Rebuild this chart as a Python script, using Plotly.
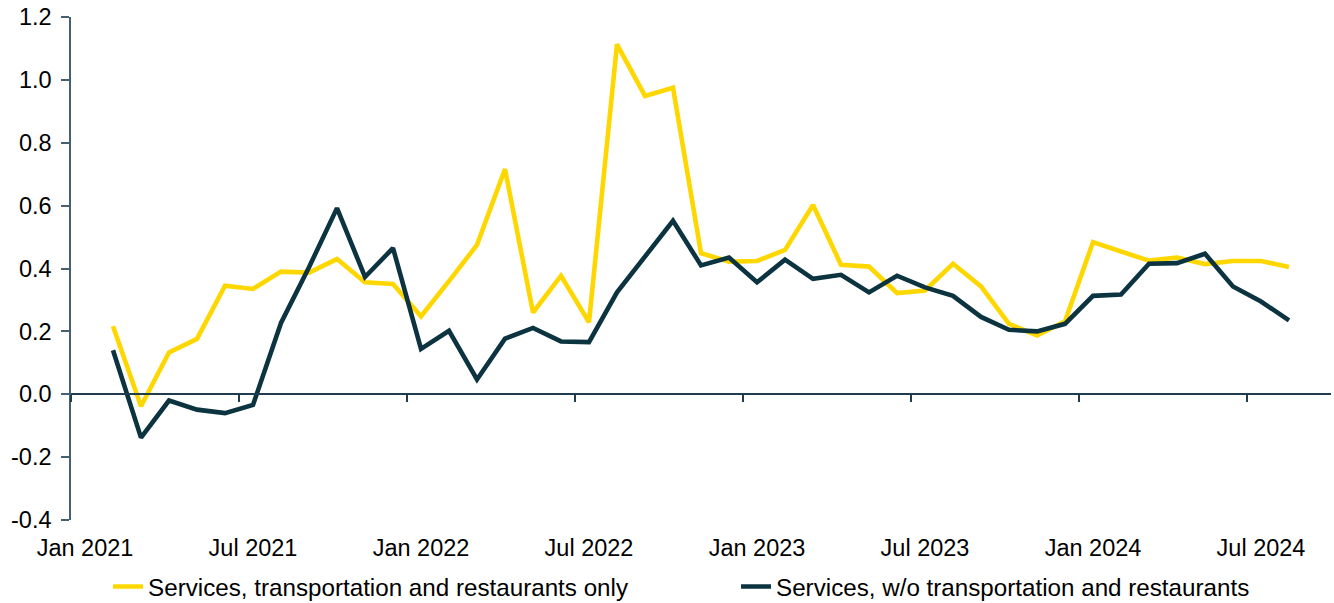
import plotly.graph_objects as go

months = [f"{m} {y}" for y in range(2021, 2025) for m in
          ["Jan", "Feb", "Mar", "Apr", "May", "Jun", "Jul", "Aug", "Sep", "Oct", "Nov", "Dec"]]
months = months[:45]  # Jan 2021 .. Sep 2024

tick_labels = ["Jan 2021", "Jul 2021", "Jan 2022", "Jul 2022",
               "Jan 2023", "Jul 2023", "Jan 2024", "Jul 2024"]

y_tick_values = [-0.4, -0.2, 0.0, 0.2, 0.4, 0.6, 0.8, 1.0, 1.2]
y_tick_text = [f"{v:.1f}" for v in y_tick_values]  # plain hyphen for negatives

# Jan 2021 .. Sep 2024 (first and last empty)
transport_restaurants = [
    None,
    0.216, -0.038, 0.133, 0.176, 0.345, 0.335, 0.390, 0.387, 0.430, 0.356, 0.351,
    0.248, 0.360, 0.475, 0.716, 0.260, 0.377, 0.229, 1.113, 0.949, 0.975, 0.449, 0.422,
    0.424, 0.459, 0.602, 0.412, 0.406, 0.322, 0.330, 0.415, 0.343, 0.224, 0.187, 0.232,
    0.484, 0.454, 0.425, 0.435, 0.414, 0.424, 0.424, 0.405,
    None,
]
without_transport = [
    None,
    0.140, -0.138, -0.020, -0.049, -0.060, -0.034, 0.227, 0.404, 0.592, 0.373, 0.465,
    0.144, 0.202, 0.047, 0.177, 0.211, 0.168, 0.166, 0.324, 0.438, 0.552, 0.410, 0.435,
    0.356, 0.428, 0.367, 0.380, 0.324, 0.377, 0.340, 0.313, 0.246, 0.205, 0.200, 0.224,
    0.313, 0.317, 0.415, 0.417, 0.447, 0.343, 0.295, 0.235,
    None,
]

series_names = ["Services, transportation and restaurants only",
                "Services, w/o transportation and restaurants"]
colors = ["#FFD700", "#0B3340"]
legend_ids = ["legend", "legend2"]

y_range = [-0.4, 1.2]
zero_pos = (0 - y_range[0]) / (y_range[1] - y_range[0])

# boundaries between categories where the zero-axis ticks sit
boundary_ticks = [months.index(t) - 0.5 for t in tick_labels]

fig = go.Figure()
for name, vals, col, lg in zip(series_names, [transport_restaurants, without_transport],
                               colors, legend_ids):
    fig.add_trace(go.Scatter(x=months, y=vals, name=name, mode="lines",
                             line=dict(color=col, width=4.6),
                             connectgaps=False, legend=lg))
# helper trace for the axis drawn through zero
fig.add_trace(go.Scatter(x=[0, len(months) - 1], y=[None, None], xaxis="x2",
                         showlegend=False, hoverinfo="skip", mode="lines"))

font_family = "Liberation Sans, Arial, sans-serif"
legend_common = dict(orientation="h", yanchor="top", y=-0.088,
                     font=dict(size=24.2, color="#000000", family=font_family),
                     bgcolor="rgba(0,0,0,0)", itemwidth=30)

fig.update_layout(
    width=1334, height=603,
    margin=dict(l=71, r=3, t=17, b=83, autoexpand=False),
    paper_bgcolor="white", plot_bgcolor="white",
    font=dict(family=font_family, size=23.5, color="#000000"),
    showlegend=True,
    legend=dict(x=0.0294, xanchor="left", **legend_common),
    legend2=dict(x=0.5278, xanchor="left", **legend_common),
    xaxis=dict(type="category", categoryorder="array", categoryarray=months,
               range=[-0.5, len(months) - 0.5],
               tickmode="array", tickvals=tick_labels, ticktext=tick_labels,
               showline=False, showgrid=False, zeroline=False,
               ticks="outside", ticklen=7, tickcolor="rgba(0,0,0,0)",
               tickfont=dict(size=23.5, color="#000000")),
    xaxis2=dict(type="linear", overlaying="x", anchor="free",
                position=zero_pos, range=[-0.5, len(months) - 0.5],
                tickmode="array", tickvals=boundary_ticks,
                showticklabels=False, showline=True, linecolor="#1F3D4C", linewidth=1.5,
                ticks="outside", ticklen=7, tickwidth=1.5, tickcolor="#1F3D4C",
                showgrid=False, zeroline=False),
    yaxis=dict(range=y_range, tickmode="array", tickvals=y_tick_values,
               ticktext=y_tick_text, showgrid=False, zeroline=False,
               showline=True, linecolor="#46606E", linewidth=1.5,
               ticks="outside", ticklen=8, tickwidth=1.5, tickcolor="#46606E",
               ticklabelstandoff=5,
               tickfont=dict(size=23.5, color="#000000")),
)

fig.write_html("out.html")
